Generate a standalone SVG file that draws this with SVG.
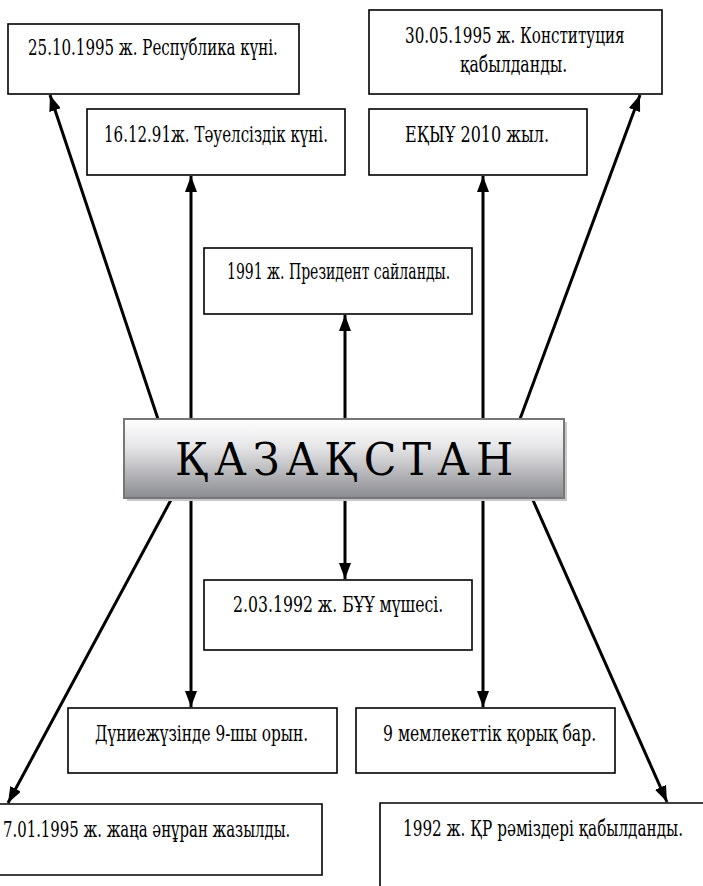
<svg xmlns="http://www.w3.org/2000/svg" width="703" height="886" viewBox="0 0 703 886">
<style>
.box{fill:#fff;stroke:#000;stroke-width:1.6}
.t{font-size:22px}
.c{stroke:#000;stroke-width:3;fill:none;marker-end:url(#ah)}
.big{font-size:45px}
</style>
<defs>
<marker id="ah" markerUnits="userSpaceOnUse" markerWidth="16" markerHeight="12" refX="16" refY="6" orient="auto" viewBox="0 0 16 12">
<path d="M0,0 L16,6 L0,12 z" fill="#000"/>
</marker>
<linearGradient id="g" x1="0" y1="0" x2="0" y2="1">
<stop offset="0" stop-color="#ffffff"/>
<stop offset="0.35" stop-color="#e6e6e8"/>
<stop offset="1" stop-color="#8a8b90"/>
</linearGradient>
</defs>
<rect width="703" height="886" fill="#fff"/>
<g id="connectors">
<line class="c" x1="158" y1="419" x2="50" y2="95"/>
<line class="c" x1="191" y1="419" x2="191" y2="176"/>
<line class="c" x1="345" y1="419" x2="345" y2="315"/>
<line class="c" x1="483" y1="419" x2="483" y2="176"/>
<line class="c" x1="520" y1="419" x2="640" y2="95"/>
<line class="c" x1="172" y1="498" x2="8" y2="803"/>
<line class="c" x1="191" y1="498" x2="191" y2="707"/>
<line class="c" x1="345" y1="498" x2="345" y2="579"/>
<line class="c" x1="483" y1="498" x2="483" y2="707"/>
<line class="c" x1="532" y1="498" x2="667" y2="802"/>
</g>
<g font-family="DejaVu Serif, serif" fill="#000">
<g id="n1"><rect class="box" x="8" y="24" width="291" height="70"/><text class="t" transform="translate(28,55) scale(0.72,1)" textLength="347" lengthAdjust="spacingAndGlyphs">25.10.1995 ж. Республика күні.</text></g>
<g id="n2"><rect class="box" x="87" y="109" width="258" height="66"/><text class="t" transform="translate(104,142) scale(0.72,1)" textLength="311" lengthAdjust="spacingAndGlyphs">16.12.91ж. Тәуелсіздік күні.</text></g>
<g id="n3"><rect class="box" x="369" y="10" width="293" height="84"/><text class="t" transform="translate(405,43) scale(0.72,1)" textLength="305" lengthAdjust="spacingAndGlyphs">30.05.1995 ж. Конституция</text><text class="t" transform="translate(460,72) scale(0.72,1)" textLength="149" lengthAdjust="spacingAndGlyphs">қабылданды.</text></g>
<g id="n4"><rect class="box" x="369" y="109" width="218" height="66"/><text class="t" transform="translate(405,142) scale(0.72,1)" textLength="200" lengthAdjust="spacingAndGlyphs">ЕҚЫҰ 2010 жыл.</text></g>
<g id="n5"><rect class="box" x="204" y="248" width="268" height="66"/><text class="t" transform="translate(227,279) scale(0.72,1)" textLength="310" lengthAdjust="spacingAndGlyphs">1991 ж. Президент сайланды.</text></g>
<g id="center">
<rect x="127" y="422" width="440" height="79" fill="#c8c8c8"/>
<rect x="124" y="419" width="440" height="79" fill="url(#g)" stroke="#777" stroke-width="2"/>
<text class="big" transform="translate(175,475) scale(0.95,1)" textLength="356" lengthAdjust="spacing">ҚАЗАҚСТАН</text>
</g>
<g id="n6"><rect class="box" x="204" y="580" width="268" height="70"/><text class="t" transform="translate(233,612) scale(0.72,1)" textLength="292" lengthAdjust="spacingAndGlyphs">2.03.1992 ж. БҰҰ мүшесі.</text></g>
<g id="n7"><rect class="box" x="68" y="708" width="269" height="65"/><text class="t" transform="translate(95,741) scale(0.72,1)" textLength="296" lengthAdjust="spacingAndGlyphs">Дүниежүзінде 9-шы орын.</text></g>
<g id="n8"><rect class="box" x="356" y="708" width="259" height="65"/><text class="t" transform="translate(383,741) scale(0.72,1)" textLength="296" lengthAdjust="spacingAndGlyphs">9 мемлекеттік қорық бар.</text></g>
<g id="n9"><path class="box" d="M0,804 H322 V875 H0"/><text class="t" transform="translate(3,837) scale(0.72,1)" textLength="399" lengthAdjust="spacingAndGlyphs">7.01.1995 ж. жаңа әнұран жазылды.</text></g>
<g id="n10"><path class="box" d="M703,803 H380 V886"/><text class="t" transform="translate(403,836) scale(0.72,1)" textLength="389" lengthAdjust="spacingAndGlyphs">1992 ж. ҚР рәміздері қабылданды.</text></g>
</g>
</svg>
